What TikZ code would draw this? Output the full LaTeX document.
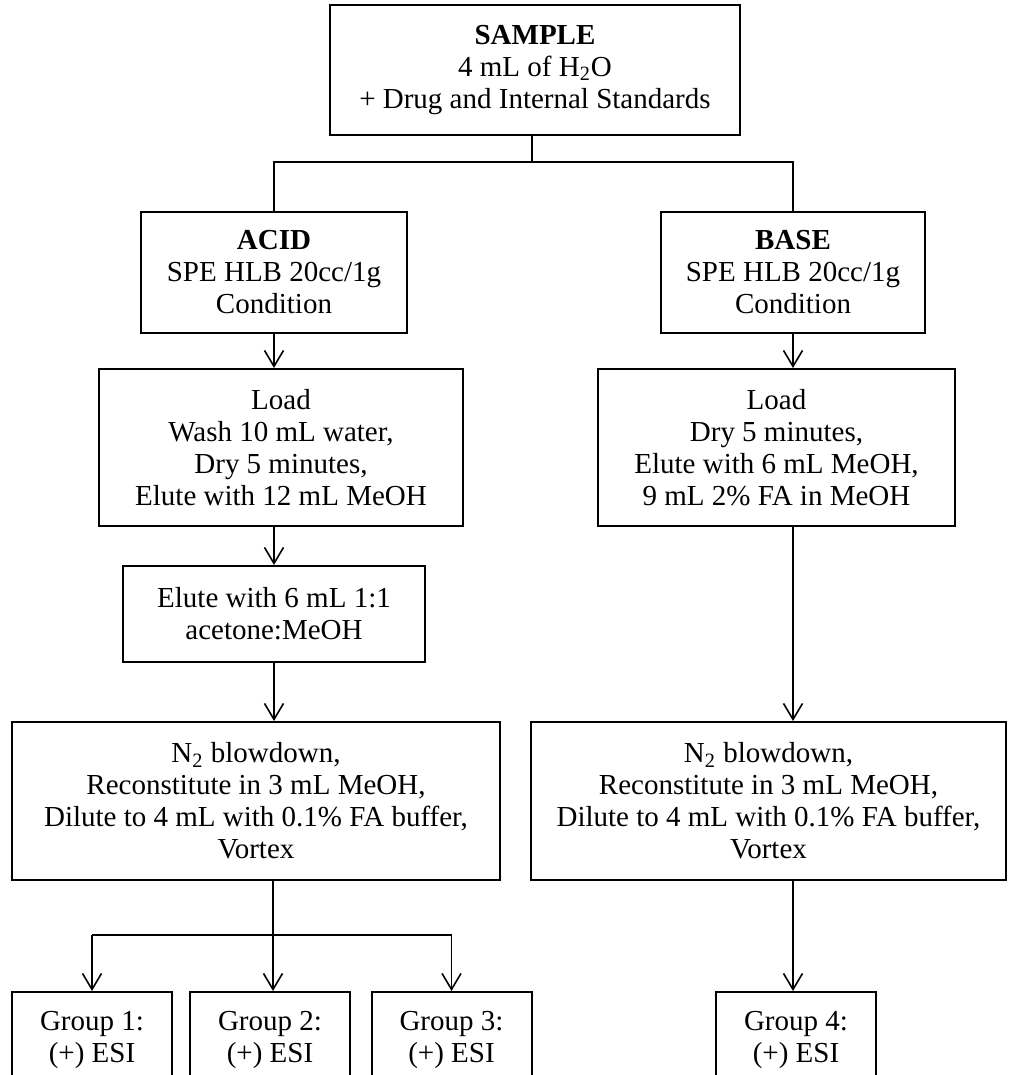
\documentclass[tikz,border=0pt]{standalone}
\usepackage{fontspec}
\setmainfont{Liberation Serif}
\usetikzlibrary{arrows.meta,positioning,calc}

\begin{document}
\begin{tikzpicture}[x=0.5pt,y=-0.5pt,
  stepbox/.style={draw,line width=1pt,align=center,inner sep=2pt,
                  font=\fontsize{14.5}{16}\selectfont},
  grpbox/.style={stepbox,anchor=north,minimum width=80pt,minimum height=48pt},
  arr/.style={line width=0.8pt,-{Straight Barb[length=8pt,width=9.5pt,line width=0.8pt]}},
  link/.style={line width=0.8pt},
]
\useasboundingbox (0,0) rectangle (1008,1075);
\node[stepbox,minimum width=205pt,minimum height=65pt] (sample) at (535,70) {\textbf{SAMPLE}\\4 mL of H\textsubscript{2}O\\+ Drug and Internal Standards};
\node[stepbox,minimum width=133pt,minimum height=60.5pt] (acid) at (274,272.5) {\textbf{ACID}\\SPE HLB 20cc/1g\\Condition};
\node[stepbox,minimum width=132pt,minimum height=60.5pt] (base) at (793,272.5) {\textbf{BASE}\\SPE HLB 20cc/1g\\Condition};
\node[stepbox,minimum width=182pt,minimum height=78.5pt] (loadA) at (281,447.5) {Load\\Wash 10 mL water,\\Dry 5 minutes,\\Elute with 12 mL MeOH};
\node[stepbox,minimum width=178.5pt,minimum height=78.5pt] (loadB) at (776.5,447.5) {Load\\Dry 5 minutes,\\Elute with 6 mL MeOH,\\9 mL 2\% FA in MeOH};
\node[stepbox,minimum width=151pt,minimum height=48pt] (eluteA) at (274,614) {Elute with 6 mL 1:1\\acetone:MeOH};
\node[stepbox,minimum width=244pt,minimum height=79pt] (blowA) at (256,801) {N\textsubscript{2} blowdown,\\Reconstitute in 3 mL MeOH,\\Dilute to 4 mL with 0.1\% FA buffer,\\Vortex};
\node[stepbox,minimum width=237.5pt,minimum height=79pt] (blowB) at (768.5,801) {N\textsubscript{2} blowdown,\\Reconstitute in 3 mL MeOH,\\Dilute to 4 mL with 0.1\% FA buffer,\\Vortex};
\node[grpbox] (grp1) at (92,991) {Group 1:\\(+) ESI};
\node[grpbox] (grp2) at (270,991) {Group 2:\\(+) ESI};
\node[grpbox] (grp3) at (451.5,991) {Group 3:\\(+) ESI};
\node[grpbox] (grp4) at (796,991) {Group 4:\\(+) ESI};
\coordinate (split) at (532,162);
\coordinate (fork) at (273,935);
\draw[link] (sample.south -| split) -- (split);
\draw[link] (acid.north) |- (split) -| (base.north);
\draw[arr] (acid.south) -- (acid.south |- loadA.north);
\draw[arr] (base.south) -- (base.south |- loadB.north);
\draw[arr] (acid.south |- loadA.south) -- (acid.south |- eluteA.north);
\draw[arr] (eluteA.south) -- (eluteA.south |- blowA.north);
\draw[arr] (base.south |- loadB.south) -- (base.south |- blowB.north);
\draw[link] (fork |- blowA.south) -- (fork);
\draw[link] (grp1.north |- fork) -- (grp3.north |- fork);
\draw[arr] (grp1.north |- fork) -- (grp1.north);
\draw[arr] (fork) -- (fork |- grp2.north);
\draw[arr] (grp3.north |- fork) -- (grp3.north);
\draw[arr] (base.south |- blowB.south) -- (base.south |- grp4.north);
\end{tikzpicture}
\end{document}
